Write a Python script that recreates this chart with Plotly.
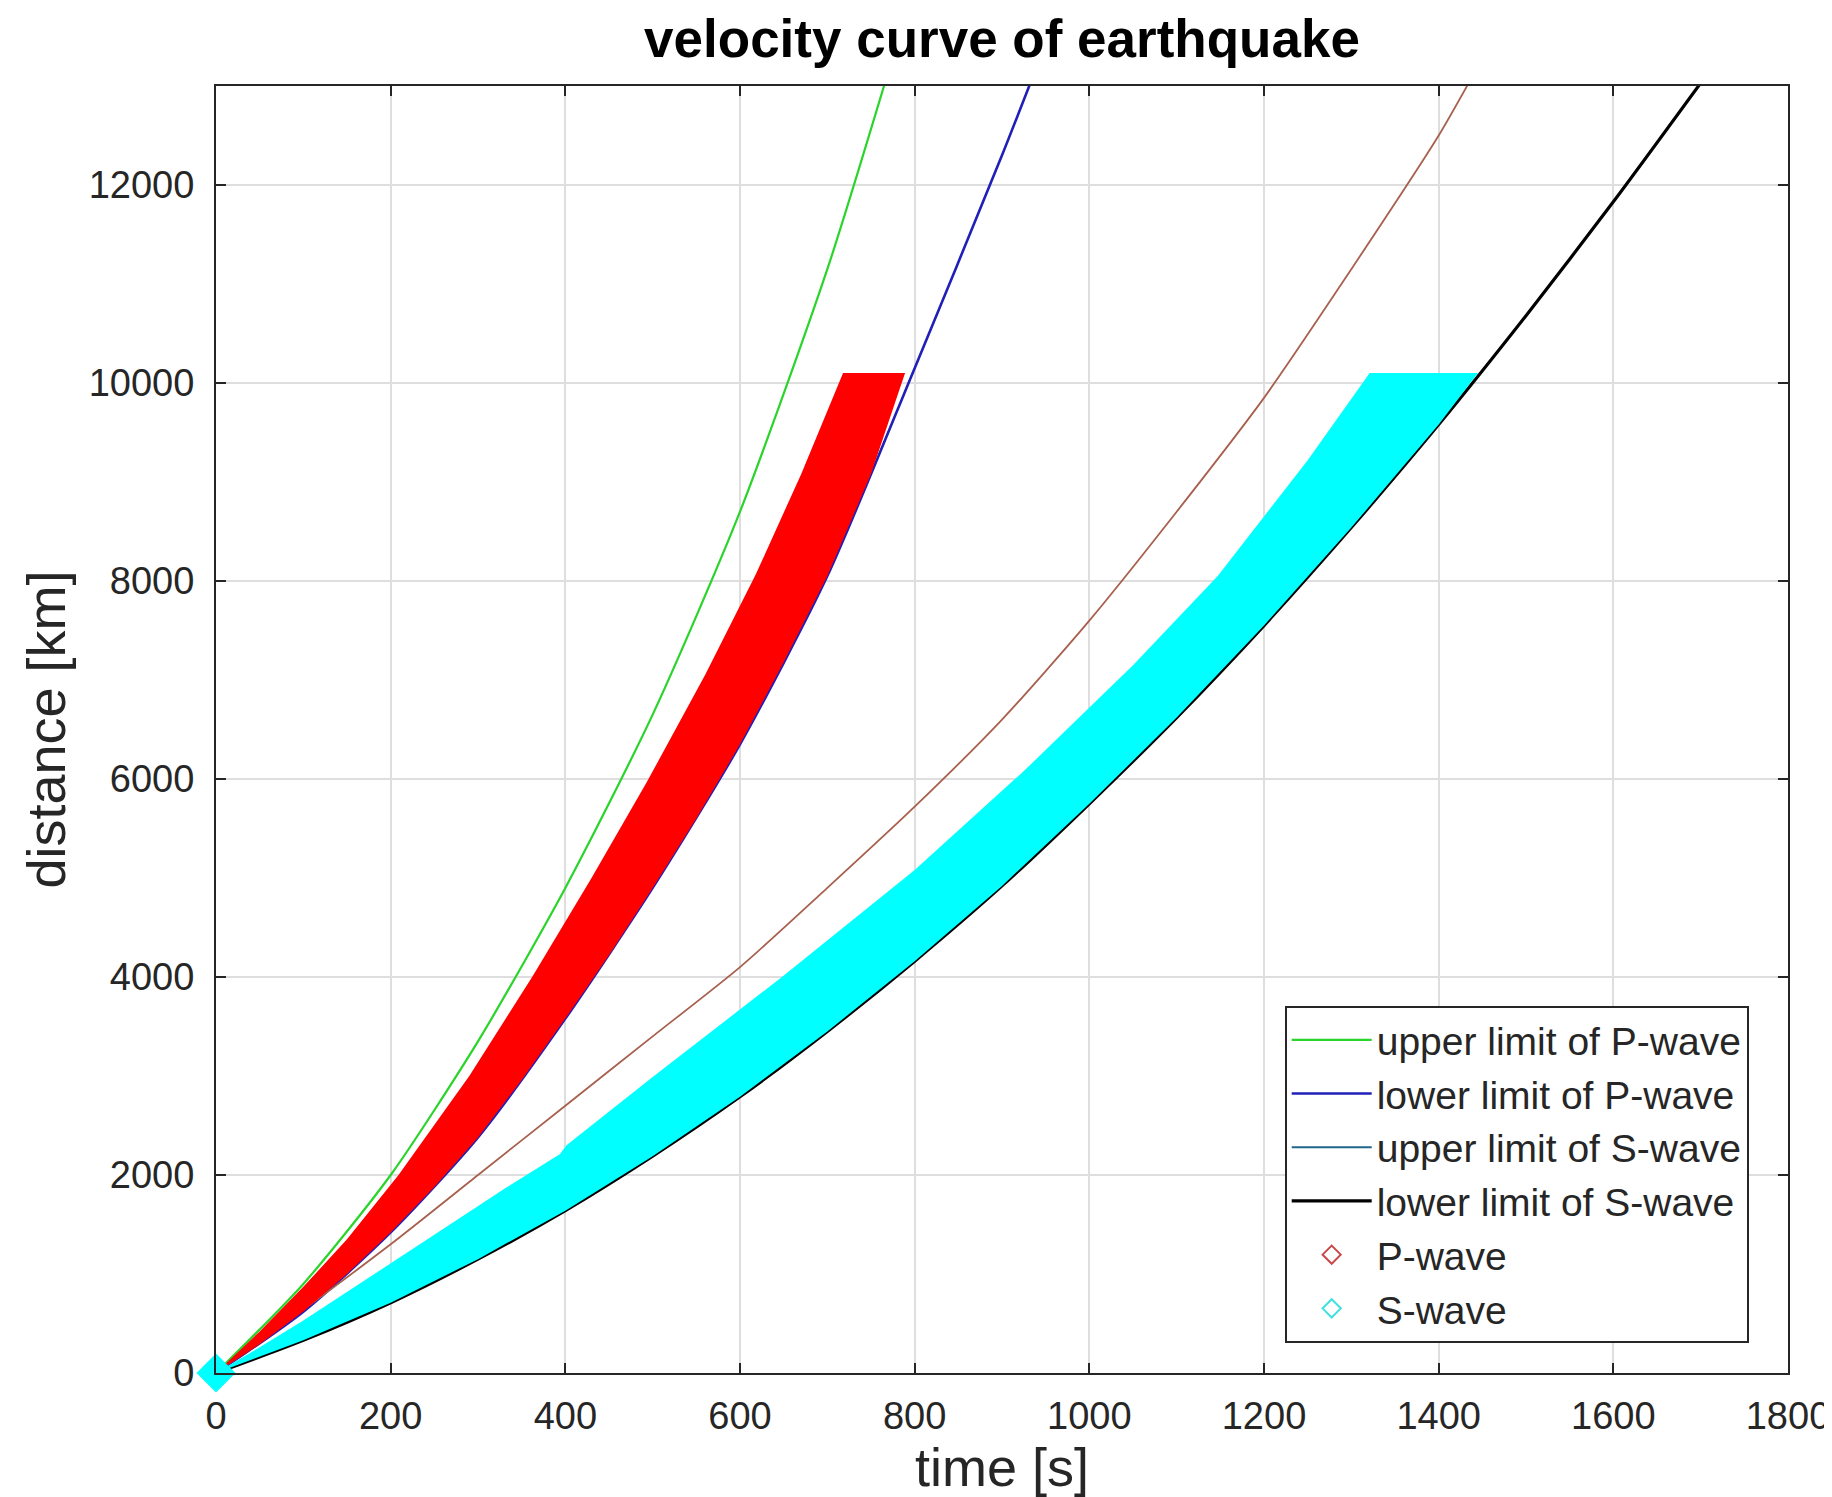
import plotly.graph_objects as go

# ---- data (time [s], distance [km]) ----
green_t = [0, 100, 200, 300, 400, 500, 600, 700, 770]
green_d = [0, 900, 2000, 3350, 4900, 6650, 8700, 11150, 13150]

blue_t = [0, 100, 200, 300, 400, 500, 600, 700, 800, 900, 940]
blue_d = [0, 620, 1420, 2380, 3580, 4900, 6350, 8050, 10150, 12300, 13200]

brown_t = [0, 100, 200, 300, 400, 500, 600, 700, 800, 900, 1000, 1100, 1200, 1300, 1400, 1440]
brown_d = [0, 640, 1300, 2000, 2700, 3400, 4100, 4900, 5720, 6600, 7600, 8700, 9850, 11150, 12500, 13120]

black_t = [0, 100, 200, 300, 400, 500, 600, 700, 800, 900, 1000, 1100, 1200, 1300, 1400, 1500, 1600, 1700]
black_d = [0, 330, 710, 1150, 1640, 2190, 2790, 3450, 4160, 4920, 5750, 6620, 7550, 8540, 9580, 10680, 11830, 13030]

# P-wave scatter cloud: upper edge (up to the 10000 km cap), then lower edge back down
p_upper_t = [0, 50, 100, 150, 209, 290, 362, 430, 493, 560, 618, 670, 718]
p_upper_d = [0, 420, 870, 1350, 2000, 3000, 4000, 5000, 5964, 7050, 8065, 9079, 10100]
p_lower_t = [789, 750, 700, 650, 600, 550, 500, 450, 400, 350, 300, 250, 200, 150, 100, 50, 0]
p_lower_d = [10100, 9080, 8050, 7180, 6350, 5600, 4900, 4220, 3580, 2960, 2380, 1880, 1420, 1000, 620, 290, 0]

# S-wave scatter cloud: upper edge, then lower edge back down
s_upper_t = [0, 50, 100, 150, 200, 270, 332, 394, 401, 500, 648, 800, 925, 1050, 1147, 1250, 1321]
s_upper_d = [0, 260, 530, 820, 1110, 1510, 1870, 2213, 2297, 2990, 4000, 5080, 6080, 7150, 8050, 9220, 10100]
s_lower_t = [1445, 1400, 1300, 1200, 1100, 1000, 900, 800, 700, 600, 500, 400, 300, 200, 100, 0]
s_lower_d = [10100, 9580, 8540, 7550, 6620, 5750, 4920, 4160, 3450, 2790, 2190, 1640, 1150, 710, 330, 0]

x_ticks = [0, 200, 400, 600, 800, 1000, 1200, 1400, 1600, 1800]
y_ticks = [0, 2000, 4000, 6000, 8000, 10000, 12000]

FONT = "Liberation Sans, Arial, Helvetica, sans-serif"
TXT = "#262626"

fig = go.Figure()

SP = dict(shape="spline", smoothing=0.7)

# limit lines (drawn under the scatter clouds)
fig.add_trace(go.Scatter(x=green_t, y=green_d, mode="lines", name="upper limit of P-wave",
                         line=dict(color="#2ad42a", width=2.2, **SP), legendrank=1))
fig.add_trace(go.Scatter(x=blue_t, y=blue_d, mode="lines", name="lower limit of P-wave",
                         line=dict(color="#2020b8", width=2.6, **SP), legendrank=2))
fig.add_trace(go.Scatter(x=brown_t, y=brown_d, mode="lines", name="upper limit of S-wave",
                         line=dict(color="#a8604e", width=1.8, **SP), showlegend=False))
fig.add_trace(go.Scatter(x=[None], y=[None], mode="lines", name="upper limit of S-wave",
                         line=dict(color="#1f6688", width=2.2), legendrank=3))
fig.add_trace(go.Scatter(x=black_t, y=black_d, mode="lines", name="lower limit of S-wave",
                         line=dict(color="#000000", width=3.2, **SP), legendrank=4))

# scatter clouds as filled bands
fig.add_trace(go.Scatter(x=p_upper_t + p_lower_t, y=p_upper_d + p_lower_d, mode="lines",
                         fill="toself", fillcolor="#ff0000", line=dict(width=0, color="#ff0000"),
                         showlegend=False, hoverinfo="skip"))
fig.add_trace(go.Scatter(x=s_upper_t + s_lower_t, y=s_upper_d + s_lower_d, mode="lines",
                         fill="toself", fillcolor="#00ffff", line=dict(width=0, color="#00ffff"),
                         showlegend=False, hoverinfo="skip"))
# blob of markers at the origin
fig.add_trace(go.Scatter(x=s_upper_t[:1], y=s_upper_d[:1], mode="markers",
                         marker=dict(symbol="diamond", size=30, color="#00ffff"),
                         cliponaxis=False, showlegend=False, hoverinfo="skip"))

# legend entries for the scatter series
fig.add_trace(go.Scatter(x=[None], y=[None], mode="markers", name="P-wave",
                         marker=dict(symbol="diamond-open", size=14, color="#c84848",
                                     line=dict(width=2, color="#c84848")), legendrank=5))
fig.add_trace(go.Scatter(x=[None], y=[None], mode="markers", name="S-wave",
                         marker=dict(symbol="diamond-open", size=14, color="#3fe0e0",
                                     line=dict(width=2, color="#3fe0e0")), legendrank=6))

axis_common = dict(
    showline=True, linecolor=TXT, linewidth=2, mirror="allticks",
    ticks="inside", ticklen=10, tickwidth=2, tickcolor=TXT,
    showgrid=True, gridcolor="#dedede", gridwidth=1.5,
    zeroline=False, automargin=False,
    tickfont=dict(family=FONT, size=38, color=TXT),
)

fig.update_layout(
    width=1832, height=1497,
    margin=dict(l=208, r=52, t=78, b=132),
    paper_bgcolor="white", plot_bgcolor="white",
    font=dict(family=FONT, color=TXT),
    title=dict(text="<b>velocity curve of earthquake</b>", x=0.5, xref="paper", xanchor="center",
               y=1 - 30 / 1497, yref="container", yanchor="middle",
               font=dict(family=FONT, size=53, color="#000000")),
    xaxis=dict(range=[0, 1800], tickvals=x_ticks, ticktext=[str(v) for v in x_ticks],
               title=dict(text="time [s]", font=dict(family=FONT, size=54, color=TXT), standoff=12),
               ticklabelstandoff=8, **axis_common),
    yaxis=dict(range=[0, 13000], tickvals=y_ticks, ticktext=[str(v) for v in y_ticks],
               title=dict(text="distance [km]", font=dict(family=FONT, size=54, color=TXT), standoff=6),
               ticklabelstandoff=12, **axis_common),
    legend=dict(x=0.975, xanchor="right", y=0.0233, yanchor="bottom",
                bgcolor="white", bordercolor="#262626", borderwidth=2,
                font=dict(family=FONT, size=39, color=TXT), itemwidth=80,
                tracegroupgap=0),
    showlegend=True,
)

fig.write_html("out.html")
